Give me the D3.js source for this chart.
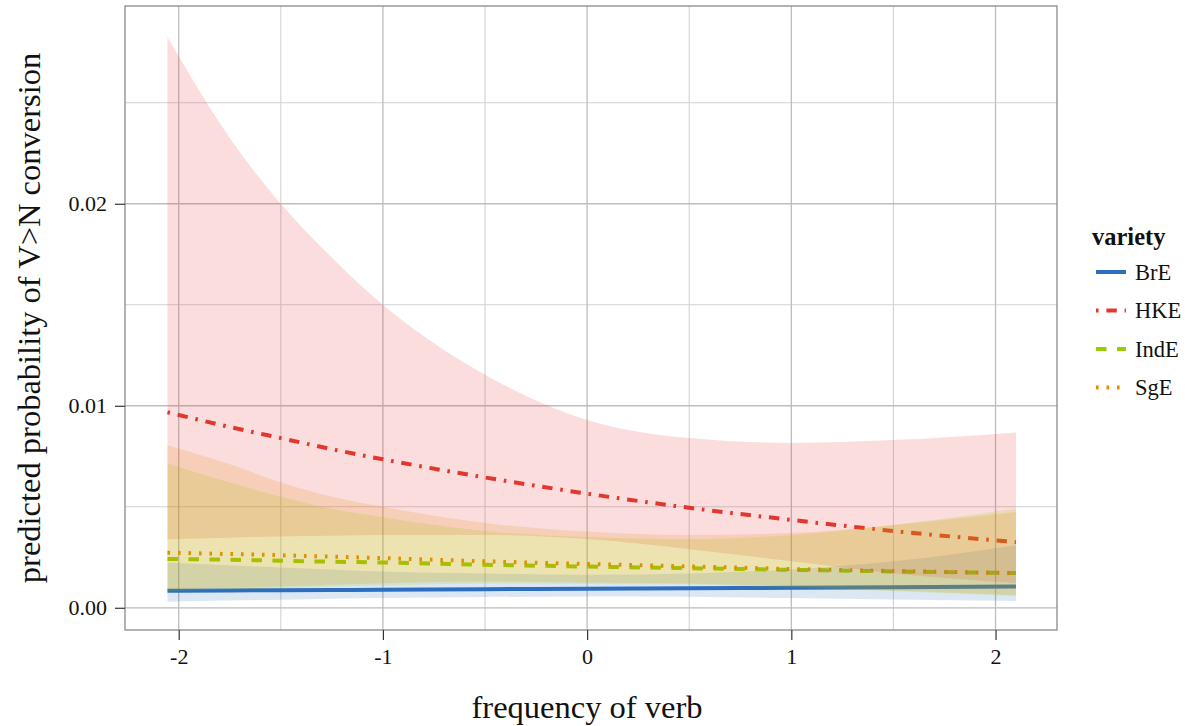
<!DOCTYPE html>
<html>
<head>
<meta charset="utf-8">
<script src="https://cdn.jsdelivr.net/npm/d3@7"></script>
<style>
  body { margin: 0; background: #fff; }
  svg { display: block; }
  text { font-family: "Liberation Serif", "Times New Roman", serif; fill: #111; }
</style>
</head>
<body>
<svg id="chart" width="1187" height="726"></svg>
<script>
// Verb frequency (standardised) at which predictions are evaluated
const freq = [-2.055, -1.75, -1.5, -1.25, -1, -0.5, 0, 0.5, 1, 1.5, 2.1];

const varieties = ["BrE", "HKE", "IndE", "SgE"];

// Predicted probability and 95% interval per variety
const fitBrE   = [0.00084, 0.00086, 0.00087, 0.00088, 0.00089, 0.00092, 0.00094, 0.00097, 0.00099, 0.00102, 0.00105];
const upperBrE = [0.00224, 0.0021, 0.0020, 0.0019, 0.00179, 0.0017, 0.00163, 0.0017, 0.0019, 0.0023, 0.0031];
const lowerBrE = [0.0003, 0.00036, 0.0004, 0.00045, 0.00048, 0.00053, 0.00056, 0.00054, 0.00048, 0.00041, 0.00033];

const fitHKE   = [0.00968, 0.00895, 0.0084, 0.00785, 0.00735, 0.00645, 0.00565, 0.00495, 0.00435, 0.0038, 0.00325];
const upperHKE = [0.02825, 0.02326, 0.0200, 0.01733, 0.0150, 0.01154, 0.0093, 0.0084, 0.00816, 0.0083, 0.00868];
const lowerHKE = [0.00339, 0.00347, 0.00353, 0.00357, 0.0036, 0.0036, 0.0034, 0.0029, 0.0023, 0.0017, 0.00123];

const fitIndE   = [0.00242, 0.00238, 0.00233, 0.00228, 0.00224, 0.00213, 0.00204, 0.00196, 0.00188, 0.0018, 0.00172];
const upperIndE = [0.00714, 0.0062, 0.0055, 0.0049, 0.00448, 0.0038, 0.0035, 0.0034, 0.0036, 0.0041, 0.0049];
const lowerIndE = [0.00082, 0.0009, 0.00097, 0.00104, 0.0011, 0.0012, 0.00118, 0.00115, 0.001, 0.00082, 0.00058];

const fitSgE   = [0.00273, 0.00266, 0.0026, 0.00253, 0.00246, 0.0023, 0.00217, 0.00205, 0.00192, 0.00182, 0.00172];
const upperSgE = [0.00805, 0.0071, 0.0062, 0.0055, 0.0050, 0.0042, 0.00377, 0.0036, 0.0037, 0.0041, 0.00474];
const lowerSgE = [0.00092, 0.00099, 0.00105, 0.00114, 0.00122, 0.0013, 0.00125, 0.0012, 0.00105, 0.00085, 0.00062];

const xTicks = [-2, -1, 0, 1, 2];
const xMinor = [-1.5, -0.5, 0.5, 1.5];
const yTicks = [0, 0.01, 0.02];
const yMinor = [0.005, 0.015, 0.025];
const yTickLabels = ["0.00", "0.01", "0.02"];

const fits = { BrE: fitBrE, HKE: fitHKE, IndE: fitIndE, SgE: fitSgE };
const uppers = { BrE: upperBrE, HKE: upperHKE, IndE: upperIndE, SgE: upperSgE };
const lowers = { BrE: lowerBrE, HKE: lowerHKE, IndE: lowerIndE, SgE: lowerSgE };

const colors = { BrE: "#2e6ebf", HKE: "#e2382e", IndE: "#9acc00", SgE: "#e88a00" };
const dashes = { BrE: null, HKE: "2.6,7.8,10.4,7.8", IndE: "10.5,10.5", SgE: "2.6,7.9" };

const panel = { left: 125, right: 1057, top: 6, bottom: 630 };

const x = d3.scaleLinear().domain([-2.263, 2.301]).range([panel.left, panel.right]);
const y = d3.scaleLinear().domain([-0.0011, 0.02979]).range([panel.bottom, panel.top]);

const svg = d3.select("#chart");

// grid
const grid = svg.append("g");
grid.selectAll(".xminor").data(xMinor).join("line")
  .attr("x1", d => x(d)).attr("x2", d => x(d))
  .attr("y1", panel.top).attr("y2", panel.bottom)
  .attr("stroke", "#d2d2d2").attr("stroke-width", 1.1);
grid.selectAll(".yminor").data(yMinor).join("line")
  .attr("y1", d => y(d)).attr("y2", d => y(d))
  .attr("x1", panel.left).attr("x2", panel.right)
  .attr("stroke", "#d2d2d2").attr("stroke-width", 1.1);
grid.selectAll(".xmajor").data(xTicks).join("line")
  .attr("x1", d => x(d)).attr("x2", d => x(d))
  .attr("y1", panel.top).attr("y2", panel.bottom)
  .attr("stroke", "#bdbdbd").attr("stroke-width", 1.3);
grid.selectAll(".ymajor").data(yTicks).join("line")
  .attr("y1", d => y(d)).attr("y2", d => y(d))
  .attr("x1", panel.left).attr("x2", panel.right)
  .attr("stroke", "#bdbdbd").attr("stroke-width", 1.3);

svg.append("clipPath").attr("id", "panelClip")
  .append("rect").attr("x", panel.left).attr("y", panel.top)
  .attr("width", panel.right - panel.left).attr("height", panel.bottom - panel.top);

const plot = svg.append("g").attr("clip-path", "url(#panelClip)");

const line = d3.line().x((d, i) => x(freq[i])).y(d => y(d)).curve(d3.curveMonotoneX);

// fitted lines sit underneath the interval ribbons
varieties.forEach(v => {
  plot.append("path")
    .attr("d", line(fits[v]))
    .attr("fill", "none")
    .attr("stroke", colors[v])
    .attr("stroke-width", 4)
    .attr("stroke-dasharray", dashes[v]);
});

varieties.forEach(v => {
  const area = d3.area()
    .x((d, i) => x(freq[i]))
    .y0((d, i) => y(lowers[v][i]))
    .y1((d, i) => y(uppers[v][i]))
    .curve(d3.curveMonotoneX);
  plot.append("path")
    .attr("d", area(fits[v]))
    .attr("fill", colors[v])
    .attr("fill-opacity", 0.17);
});

// panel border
svg.append("rect")
  .attr("x", panel.left).attr("y", panel.top)
  .attr("width", panel.right - panel.left).attr("height", panel.bottom - panel.top)
  .attr("fill", "none").attr("stroke", "#8a8a8a").attr("stroke-width", 1.3);

// x axis
const xAxis = d3.axisBottom(x).tickValues(xTicks).tickSize(10).tickPadding(8)
  .tickFormat(d => String(d).replace("\u2212", "-"));
const gx = svg.append("g").attr("transform", `translate(0,${panel.bottom})`).call(xAxis);
gx.select(".domain").remove();
gx.selectAll(".tick line").attr("stroke", "#333").attr("stroke-width", 1.2);
gx.selectAll(".tick text").attr("font-size", 22).attr("fill", "#111");

// y axis
const yAxis = d3.axisLeft(y).tickValues(yTicks).tickSize(10).tickPadding(8)
  .tickFormat((d, i) => yTickLabels[i]);
const gy = svg.append("g").attr("transform", `translate(${panel.left},0)`).call(yAxis);
gy.select(".domain").remove();
gy.selectAll(".tick line").attr("stroke", "#333").attr("stroke-width", 1.2);
gy.selectAll(".tick text").attr("font-size", 22).attr("fill", "#111");

// axis titles
svg.append("text")
  .attr("x", (panel.left + panel.right) / 2 - 4).attr("y", 718)
  .attr("text-anchor", "middle").attr("font-size", 32.5)
  .text("frequency of verb");

svg.append("text")
  .attr("transform", `translate(40,${(panel.top + panel.bottom) / 2}) rotate(-90)`)
  .attr("text-anchor", "middle").attr("font-size", 32.5)
  .text("predicted probability of V>N conversion");

// legend
const legend = svg.append("g");
legend.append("text").attr("x", 1092).attr("y", 245)
  .attr("font-size", 24.5).attr("font-weight", "bold").text("variety");

const rowY = d3.scalePoint().domain(varieties).range([272, 387.5]);
varieties.forEach(v => {
  const yy = rowY(v);
  legend.append("line")
    .attr("x1", 1096).attr("x2", 1126).attr("y1", yy).attr("y2", yy)
    .attr("stroke", colors[v]).attr("stroke-width", 4)
    .attr("stroke-dasharray", dashes[v]);
  legend.append("text").attr("x", 1135).attr("y", yy + 7.5)
    .attr("font-size", 22.5).text(v);
});
</script>
</body>
</html>
